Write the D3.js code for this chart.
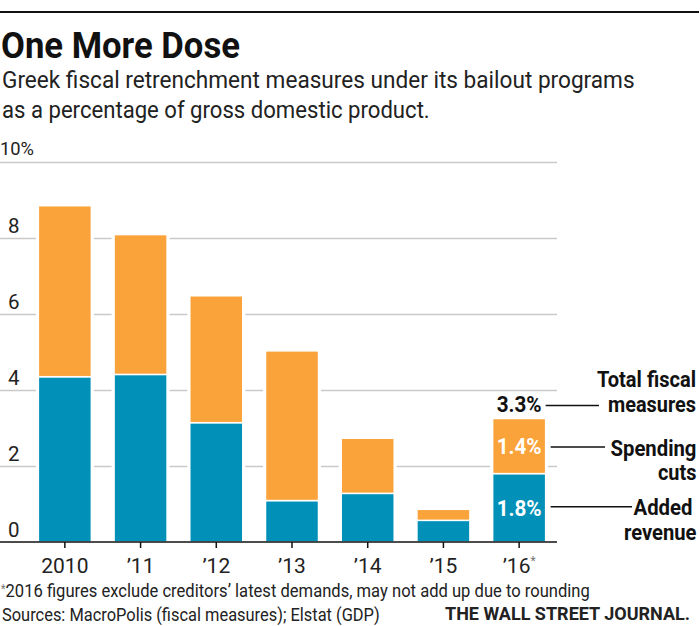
<!DOCTYPE html>
<html>
<head>
<meta charset="utf-8">
<script src="https://cdn.jsdelivr.net/npm/d3@7"></script>
<style>
  html, body { margin: 0; padding: 0; background: #fff; }
  svg { display: block; }
  text { font-family: Roboto, "Noto Sans", "DejaVu Sans", sans-serif; }
</style>
</head>
<body>
<svg id="chart" width="700" height="626"></svg>
<script>
// ---- data ----
const years = ["2010", "\u201911", "\u201912", "\u201913", "\u201914", "\u201915", "\u201916"];
const addedRevenue = [4.35, 4.41, 3.14, 1.09, 1.28, 0.57, 1.8];
const spendingCuts = [4.5, 3.68, 3.34, 3.94, 1.45, 0.29, 1.45];
const yTicks = [0, 2, 4, 6, 8, 10];
const yTickLabels = ["0", "2", "4", "6", "8", "10%"];
const calloutValues = ["3.3%", "1.4%", "1.8%"];
const title = "One More Dose";
const subtitle = ["Greek fiscal retrenchment measures under its bailout programs",
                  "as a percentage of gross domestic product."];
const footnote = "2016 figures exclude creditors\u2019 latest demands, may not add up due to rounding";
const sources = "Sources: MacroPolis (fiscal measures); Elstat (GDP)";

const ORANGE = "#F9A33A", BLUE = "#0090B8", GRID = "#c9c9c9";

const svg = d3.select("#chart");

// place text so that it starts at x0 (baseline y) and spans exactly w pixels, by horizontal scaling
function placeFit(sel, x0, yb, w) {
  sel.attr("x", 0).attr("y", 0).attr("text-anchor", "start");
  const natural = sel.node().getComputedTextLength();
  const sx = w / natural;
  sel.attr("transform", `translate(${x0},${yb}) scale(${sx},1)`);
  return sel;
}

// top rule
svg.append("line").attr("x1", 0).attr("x2", 699).attr("y1", 12).attr("y2", 12)
  .attr("stroke", "#111").attr("stroke-width", 2);

// title + subtitle
placeFit(svg.append("text").attr("font-size", 37).attr("font-weight", 700)
  .attr("fill", "#111").text(title), 1, 58, 239);
placeFit(svg.append("text").attr("font-size", 23.5).attr("fill", "#222").text(subtitle[0]), 2, 88, 633);
placeFit(svg.append("text").attr("font-size", 23.5).attr("fill", "#222").text(subtitle[1]), 2, 118, 428);

// scales
const x = d3.scaleBand().domain(years).range([27, 557]).paddingInner(0.3).paddingOuter(0.15);
const y = d3.scaleLinear().domain([0, 10]).range([542, 162]);

// gridlines + y labels
const yAxis = d3.axisRight(y).tickValues(yTicks).tickSize(557).tickFormat((d, i) => yTickLabels[i]);
const gy = svg.append("g").call(yAxis);
gy.select(".domain").remove();
gy.selectAll(".tick line").attr("stroke", GRID).attr("stroke-width", 1.6);
gy.selectAll(".tick text").attr("x", 8).attr("dy", 0).attr("y", -6)
  .attr("font-size", 20.5).attr("fill", "#222").attr("text-anchor", "start")
  .attr("font-family", "Roboto, sans-serif")
  .each(function(d) {
    if (d === 10) d3.select(this).attr("x", 0).attr("y", -8).attr("font-size", 19)
      .attr("textLength", 34).attr("lengthAdjust", "spacingAndGlyphs");
  });
gy.selectAll(".tick").filter(d => d === 0).select("line").attr("stroke", "none");

// stacked data
const stackData = years.map((yr, i) => ({ year: yr, revenue: addedRevenue[i], spending: spendingCuts[i] }));
const series = d3.stack().keys(["revenue", "spending"])(stackData);
const colors = { revenue: BLUE, spending: ORANGE };

// white halo behind bars (to break gridlines)
svg.append("g").selectAll("rect").data(stackData).join("rect")
  .attr("x", d => x(d.year) - 2.5)
  .attr("width", x.bandwidth() + 5)
  .attr("y", d => y(d.revenue + d.spending) - 2.5)
  .attr("height", d => y(0) - y(d.revenue + d.spending) + 2.5)
  .attr("fill", "#fff");

svg.append("g").selectAll("g").data(series).join("g")
  .attr("fill", s => colors[s.key])
  .selectAll("rect").data(s => s).join("rect")
  .attr("x", d => x(d.data.year))
  .attr("width", x.bandwidth())
  .attr("y", d => y(d[1]))
  .attr("height", d => y(d[0]) - y(d[1]))
  .attr("stroke", "#fff").attr("stroke-width", 1.5);

// x axis
const xAxis = d3.axisBottom(x).tickSize(6).tickSizeOuter(0).tickFormat(() => "");
const gx = svg.append("g").attr("transform", `translate(0,${y(0)})`).call(xAxis);
gx.select(".domain").attr("d", "M0,0H557").attr("stroke", "#111").attr("stroke-width", 1.6);
gx.selectAll(".tick line").attr("stroke", "#111").attr("stroke-width", 1.5);

const yl = svg.append("g");
years.forEach((yr, i) => {
  const t = yl.append("text").attr("x", x(yr) + x.bandwidth() / 2).attr("y", 572.5)
    .attr("text-anchor", "middle").attr("font-size", 21).attr("fill", "#222").text(yr);
  if (i === years.length - 1) {
    t.append("tspan").attr("dy", -8).attr("font-size", 12).attr("fill", "#777").text("*");
  }
});

// call-outs on last bar
const last = stackData[stackData.length - 1];
const lx = x(last.year), bw = x.bandwidth();
const total = last.revenue + last.spending;
const yTotal = y(total);
const ySpendMid = (y(last.revenue) + y(total)) / 2;
const yRevMid = (y(0) + y(last.revenue)) / 2;

placeFit(svg.append("text").attr("font-size", 21.5).attr("font-weight", 700)
  .attr("fill", "#111").text(calloutValues[0]), lx + 4, yTotal - 7, 45);
placeFit(svg.append("text").attr("font-size", 21.5).attr("font-weight", 700)
  .attr("fill", "#fff").text(calloutValues[1]), lx + 4, ySpendMid + 8, 45);
placeFit(svg.append("text").attr("font-size", 21.5).attr("font-weight", 700)
  .attr("fill", "#fff").text(calloutValues[2]), lx + 4, yRevMid + 8, 45);

const lines = [
  [lx + bw, yTotal - 13, 599],
  [lx + bw + 5, ySpendMid + 1, 605],
  [lx + bw + 5, yRevMid - 1, 632]
];
svg.append("g").selectAll("line").data(lines).join("line")
  .attr("x1", d => d[0]).attr("x2", d => d[2]).attr("y1", d => d[1]).attr("y2", d => d[1])
  .attr("stroke", "#111").attr("stroke-width", 1.5);

const rightLabels = [
  ["Total fiscal", 597, 386.7, 99],
  ["measures", 608, 411.7, 88],
  ["Spending", 610.5, 456, 86],
  ["cuts", 658, 480, 38.5],
  ["Added", 633.5, 515, 59],
  ["revenue", 624, 540, 72.5]
];
rightLabels.forEach(r => {
  placeFit(svg.append("text").attr("font-size", 21.5).attr("font-weight", 700)
    .attr("fill", "#111").text(r[0]), r[1], r[2], r[3]);
});

// footnotes
const fn = svg.append("text").attr("font-size", 19).attr("fill", "#222");
fn.append("tspan").attr("font-size", 12).attr("fill", "#777").attr("dy", -4).text("*");
fn.append("tspan").attr("dy", 4).text(footnote);
placeFit(fn, 1, 597, 589);
placeFit(svg.append("text").attr("font-size", 19).attr("fill", "#222").text(sources), 2, 621, 378);
placeFit(svg.append("text").attr("font-size", 17.5).attr("font-weight", 700)
  .attr("font-family", "'Liberation Serif', 'DejaVu Serif', serif").attr("fill", "#222")
  .text("THE WALL STREET JOURNAL."), 445, 620, 245);
</script>
</body>
</html>
